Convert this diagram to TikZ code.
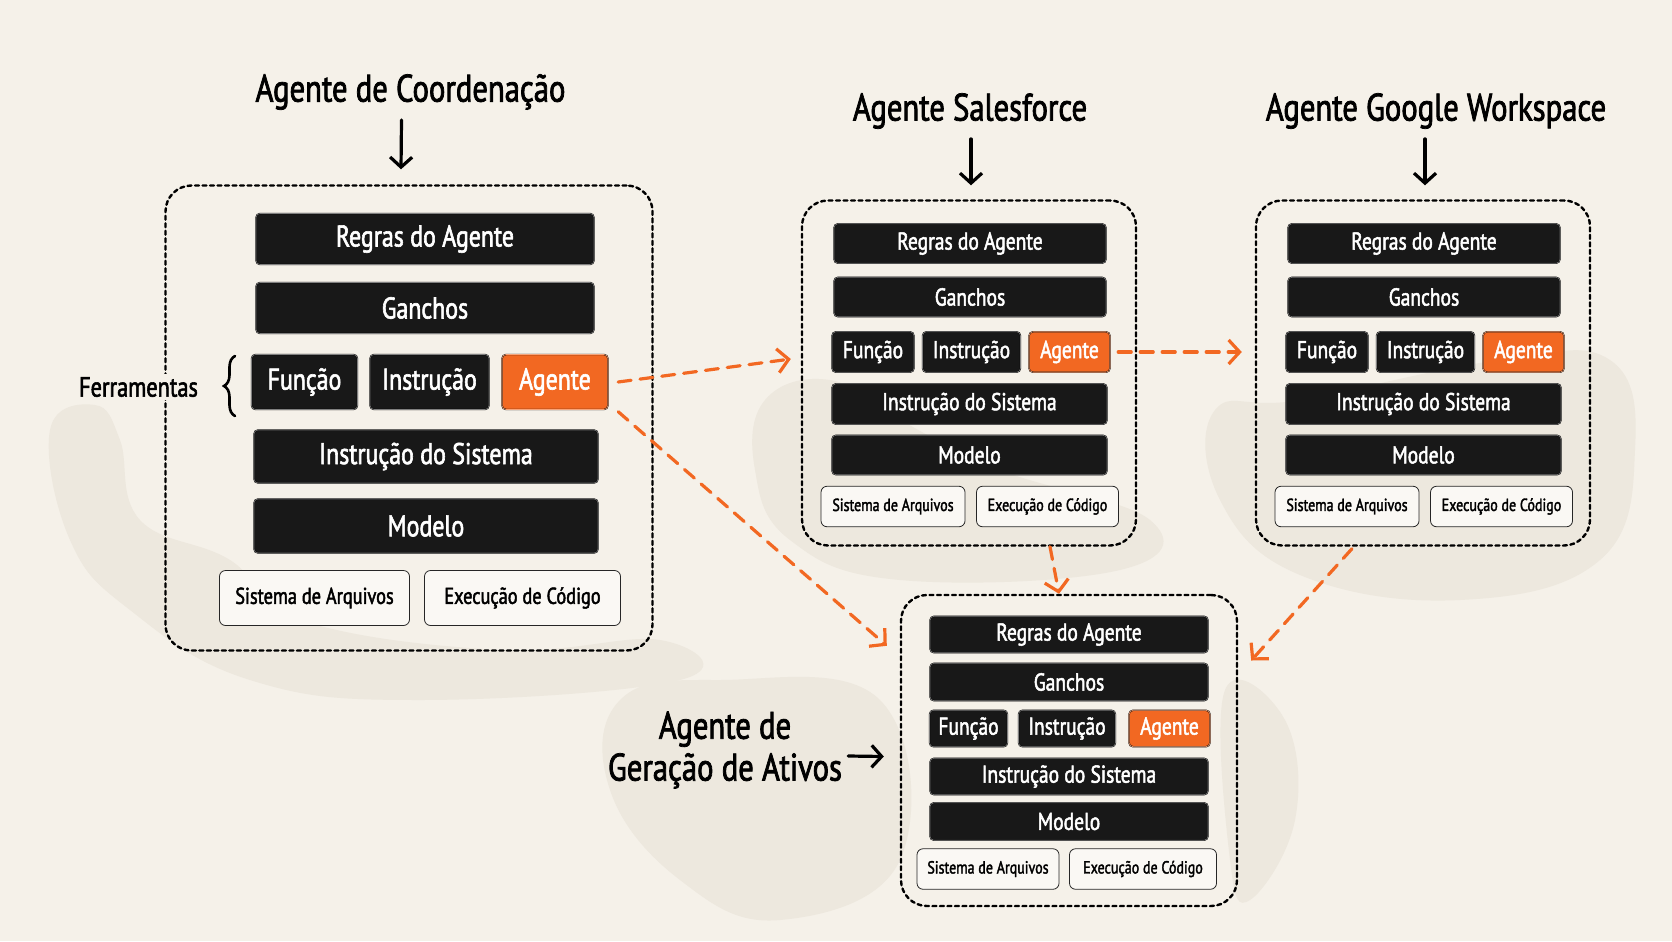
\documentclass[tikz,border=0pt]{standalone}
\usepackage{fontspec}
\setmainfont{PT Sans}[FakeStretch=0.8,FakeBold=2]
\usetikzlibrary{arrows.meta,positioning,decorations.pathreplacing}
\definecolor{paper}{RGB}{245,241,233}
\definecolor{ink}{RGB}{24,24,24}
\definecolor{flame}{RGB}{242,104,34}
\definecolor{stain}{RGB}{237,232,222}

\begin{document}
\begin{tikzpicture}[x=1bp,y=-1bp,line cap=round,
    layer/.style={draw=black,double=black!50,double distance=.6bp,fill=ink,text=white,rounded corners=4bp,inner sep=0pt},
    hot/.style={layer,fill=flame,double=flame!60},
    env/.style={draw=black!85,line width=.8bp,fill=paper!50!white,rounded corners=6bp,inner sep=0pt},
    agentbox/.style={draw=black,line width=2.4bp,dash pattern=on 4bp off 3.5bp,rounded corners=26bp,inner sep=0pt},
    point/.style={-{Straight Barb[length=10bp,width=22bp]},line width=3.2bp},
    flow/.style={-{Straight Barb[length=11bp,width=24bp]},draw=flame,line width=3.2bp,dash pattern=on 13bp off 9bp},
    title/.style={font=\fontsize{38.5}{42}\selectfont,inner sep=2bp},
    big/.style={font=\fontsize{30}{34}\selectfont},
    small/.style={font=\fontsize{24.5}{28}\selectfont},
    mid/.style={font=\fontsize{23}{26}\selectfont},
    tiny/.style={font=\fontsize{17.6}{20}\selectfont}]
  % paper and stains
  \fill[paper] (0,0) rectangle (1672,941);
  \useasboundingbox (0,0) rectangle (1672,941);
  \fill[stain] plot[smooth cycle,tension=.7] coordinates {(50,430) (95,405) (120,440) (140,520) (230,560) (300,620) (500,650) (660,640) (680,680) (420,700) (250,680) (130,610) (70,540)};
  \fill[stain] plot[smooth cycle,tension=.7] coordinates {(765,400) (830,380) (900,420) (1000,470) (1150,520) (1120,570) (900,580) (790,540) (755,470)};
  \fill[stain] plot[smooth cycle,tension=.7] coordinates {(1215,410) (1300,400) (1500,360) (1610,360) (1635,450) (1600,560) (1460,600) (1300,575) (1220,500)};
  \fill[stain] plot[smooth cycle,tension=.7] coordinates {(620,700) (720,680) (880,700) (900,860) (780,920) (680,880) (610,790)};
  \fill[stain] plot[smooth cycle,tension=.7] coordinates {(1225,690) (1285,720) (1295,820) (1250,900) (1230,860)};

  % coordination agent
  \node[title] (c-title) at (410.5,92) {Agente de Coordenação};
  \node[agentbox,minimum width=487bp,minimum height=465bp] (c-box) at (409,418) {};
  \node[layer,big,minimum width=338bp,minimum height=51bp] (c-rules) at (425,239) {Regras do Agente};
  \node[layer,big,minimum width=338bp,minimum height=51bp] (c-hooks) at (425,308) {Ganchos};
  \node[layer,big,minimum width=106bp,minimum height=55bp] (c-func) at (304.5,382) {Função};
  \node[layer,big,minimum width=119bp,minimum height=55bp] (c-instr) at (429.5,382) {Instrução};
  \node[hot,big,minimum width=106bp,minimum height=55bp] (c-agent) at (555,382) {Agente};
  \node[layer,big,minimum width=344bp,minimum height=53bp] (c-sys) at (426,456.5) {Instrução do Sistema};
  \node[layer,big,minimum width=344bp,minimum height=54bp] (c-model) at (426,526) {Modelo};
  \node[env,mid,minimum width=190bp,minimum height=55bp] (c-fs) at (314.5,598) {Sistema de Arquivos};
  \node[env,mid,minimum width=196bp,minimum height=55bp] (c-exec) at (522.5,598) {Execução de Código};
  \node[font=\fontsize{28}{32}\selectfont,fill=paper,inner sep=3bp] (c-tools) at (138.5,387) {Ferramentas};
  \draw[line width=2.6bp,decorate,decoration={brace,amplitude=11bp}] (235,416) -- (235,356);
  \draw[point] ([shift={(-9,8)}]c-title.south) -- ([shift={(-8,-15)}]c-box.north);

  % salesforce and google workspace agents
  \foreach \nm/\dx/\tx/\ttl in {s/0/970/Agente Salesforce, g/454/1436/Agente Google Workspace} {
    \node[title] (\nm-title) at (\tx,111) {\ttl};
    \begin{scope}[shift={(\dx,0)}]
      \node[agentbox,minimum width=334bp,minimum height=345bp] (\nm-box) at (969,373) {};
      \node[layer,small,minimum width=272bp,minimum height=39.5bp] (\nm-rules) at (970,243.5) {Regras do Agente};
      \node[layer,small,minimum width=272bp,minimum height=39.5bp] (\nm-hooks) at (970,297) {Ganchos};
      \node[layer,small,minimum width=82bp,minimum height=40.5bp] (\nm-func) at (873,352) {Função};
      \node[layer,small,minimum width=98bp,minimum height=40.5bp] (\nm-instr) at (971.5,352) {Instrução};
      \node[hot,small,minimum width=81bp,minimum height=40.5bp] (\nm-agent) at (1069.5,352) {Agente};
      \node[layer,small,minimum width=275bp,minimum height=40.5bp] (\nm-sys) at (969.5,404) {Instrução do Sistema};
      \node[layer,small,minimum width=275bp,minimum height=39.5bp] (\nm-model) at (969.5,455) {Modelo};
      \node[env,tiny,minimum width=144bp,minimum height=40.5bp] (\nm-fs) at (893,506.5) {Sistema de Arquivos};
      \node[env,tiny,minimum width=142bp,minimum height=40.5bp] (\nm-exec) at (1047.5,506.5) {Execução de Código};
    \end{scope}
    \coordinate (\nm-top) at (\nm-box.north |- \nm-title.south);
    \draw[point] ([shift={(2,8)}]\nm-top) -- ([shift={(2,-14)}]\nm-box.north);
  }

  % asset generation agent
  \node[title,align=center] (a-title) at (725,750) {Agente de\\Geração de Ativos};
  \node[agentbox,minimum width=336bp,minimum height=311bp] (a-box) at (1069,750.5) {};
  \node[layer,small,minimum width=278bp,minimum height=36.5bp] (a-rules) at (1069,634.5) {Regras do Agente};
  \node[layer,small,minimum width=278bp,minimum height=37.5bp] (a-hooks) at (1069,682) {Ganchos};
  \node[layer,small,minimum width=78bp,minimum height=36.5bp] (a-func) at (968.5,728.5) {Função};
  \node[layer,small,minimum width=97bp,minimum height=36.5bp] (a-instr) at (1067,728.5) {Instrução};
  \node[hot,small,minimum width=81bp,minimum height=36.5bp] (a-agent) at (1169.5,728.5) {Agente};
  \node[layer,small,minimum width=278bp,minimum height=36.5bp] (a-sys) at (1069,776.5) {Instrução do Sistema};
  \node[layer,small,minimum width=278bp,minimum height=37.5bp] (a-model) at (1069,821.5) {Modelo};
  \node[env,tiny,minimum width=142bp,minimum height=40.5bp] (a-fs) at (988,869) {Sistema de Arquivos};
  \node[env,tiny,minimum width=147bp,minimum height=40.5bp] (a-exec) at (1143,869) {Execução de Código};
  \draw[point] ([shift={(4,6)}]a-title.east) -- ([shift={(-16,6)}]a-box.west);

  % delegation between agents
  \draw[flow] ([shift={(10,0)}]c-agent.east) -- ([shift={(-10,-14)}]s-box.west);
  \draw[flow] ([shift={(10,2)}]c-agent.south east) -- ([shift={(-13,52)}]a-box.north west);
  \draw[flow] ([shift={(8,0)}]s-agent.east) -- ([shift={(-13,-21)}]g-box.west);
  \draw[flow] ([shift={(81,0)}]s-box.south) -- ([shift={(-10,0)}]a-box.north);
  \draw[flow] ([shift={(-71,2)}]g-box.south) -- ([shift={(13,-90)}]a-box.east);
\end{tikzpicture}
\end{document}
